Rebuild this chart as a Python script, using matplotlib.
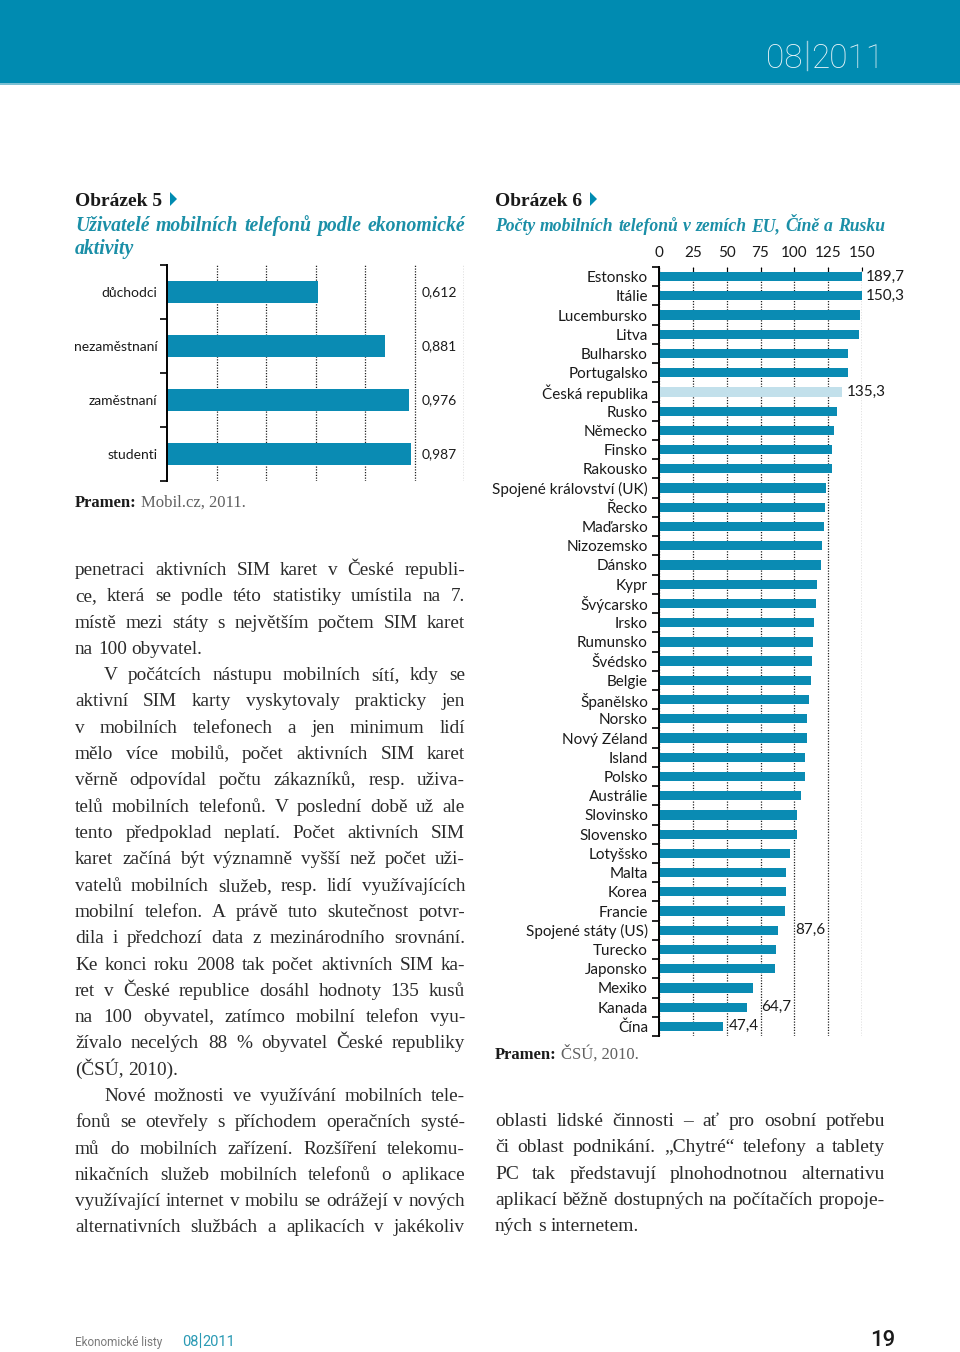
import matplotlib
matplotlib.use("Agg")
import matplotlib.pyplot as plt
from matplotlib.patches import Rectangle, Polygon
import numpy as np

W, H = 960, 1352
TEAL = '#008bb1'
BAR = '#0a8bb3'
BAR_CZ = '#c2e0eb'
TITLE_TEAL = '#1b8fa7'
INK = '#2b2b2b'

# Obrázek 5 data
activity = ['důchodci', 'nezaměstnaní', 'zaměstnaní', 'studenti']
activity_share = [0.612, 0.881, 0.976, 0.987]

# Obrázek 6 data (top to bottom)
countries = ['Estonsko', 'Itálie', 'Lucembursko', 'Litva', 'Bulharsko', 'Portugalsko',
             'Česká republika', 'Rusko', 'Německo', 'Finsko', 'Rakousko',
             'Spojené království (UK)', 'Řecko', 'Maďarsko', 'Nizozemsko', 'Dánsko',
             'Kypr', 'Švýcarsko', 'Irsko', 'Rumunsko', 'Švédsko', 'Belgie', 'Španělsko',
             'Norsko', 'Nový Zéland', 'Island', 'Polsko', 'Austrálie', 'Slovinsko',
             'Slovensko', 'Lotyšsko', 'Malta', 'Korea', 'Francie', 'Spojené státy (US)',
             'Turecko', 'Japonsko', 'Mexiko', 'Kanada', 'Čína']
phones = [189.7, 150.3, 148.5, 147.5, 139.5, 139.4, 135.3, 131.5, 129.3, 128.1, 128.0,
          123.1, 122.7, 121.7, 120.2, 119.5, 117.0, 116.3, 114.5, 114.1, 113.1, 112.6,
          111.1, 109.6, 109.1, 108.2, 108.1, 104.7, 102.2, 101.8, 96.6, 94.1, 94.0,
          93.2, 87.6, 86.8, 85.8, 69.5, 64.7, 47.4]
labelled = ['Estonsko', 'Itálie', 'Česká republika', 'Spojené státy (US)', 'Kanada', 'Čína']
phone_ticks = [0, 25, 50, 75, 100, 125, 150]

body_left = [
    'penetraci aktivních SIM karet v České republi-',
    'ce, která se podle této statistiky umístila na 7.',
    'místě mezi státy s největším počtem SIM karet',
    'na 100 obyvatel.',
    'V počátcích nástupu mobilních sítí, kdy se',
    'aktivní SIM karty vyskytovaly prakticky jen',
    'v mobilních telefonech a jen minimum lidí',
    'mělo více mobilů, počet aktivních SIM karet',
    'věrně odpovídal počtu zákazníků, resp. uživa-',
    'telů mobilních telefonů. V poslední době už ale',
    'tento předpoklad neplatí. Počet aktivních SIM',
    'karet začíná být významně vyšší než počet uži-',
    'vatelů mobilních služeb, resp. lidí využívajících',
    'mobilní telefon. A právě tuto skutečnost potvr-',
    'dila i předchozí data z mezinárodního srovnání.',
    'Ke konci roku 2008 tak počet aktivních SIM ka-',
    'ret v České republice dosáhl hodnoty 135 kusů',
    'na 100 obyvatel, zatímco mobilní telefon vyu-',
    'žívalo necelých 88 % obyvatel České republiky',
    '(ČSÚ, 2010).',
    'Nové možnosti ve využívání mobilních tele-',
    'fonů se otevřely s příchodem operačních systé-',
    'mů do mobilních zařízení. Rozšíření telekomu-',
    'nikačních služeb mobilních telefonů o aplikace',
    'využívající internet v mobilu se odrážejí v nových',
    'alternativních službách a aplikacích v jakékoliv',
]
body_right = [
    'oblasti lidské činnosti – ať pro osobní potřebu',
    'či oblast podnikání. „Chytré“ telefony a tablety',
    'PC tak představují plnohodnotnou alternativu',
    'aplikací běžně dostupných na počítačích propoje-',
    'ných s internetem.',
]

fig = plt.figure(figsize=(W / 100, H / 100), dpi=100)
page = fig.add_axes([0, 0, 1, 1], zorder=0)
page.set_xlim(0, W)
page.set_ylim(H, 0)
page.axis('off')
renderer = fig.canvas.get_renderer()


def px_axes(left, top, right, bottom):
    ax = fig.add_axes([left / W, 1 - bottom / H, (right - left) / W, (bottom - top) / H], zorder=1)
    ax.set_facecolor('none')
    return ax


def text_width(s, **font):
    t = page.text(0, 0, s, **font)
    w = t.get_window_extent(renderer).width
    t.remove()
    return w


def set_block(lines, x0, x1, y0, step, font, indent=(), ragged=(), indent_px=29):
    # justified text, one Text per word; shrink the font if a line cannot fit
    widest = max(text_width(l, **font) + (indent_px if i in indent else 0)
                 for i, l in enumerate(lines))
    if widest > (x1 - x0):
        font = dict(font, size=font['size'] * (x1 - x0) / widest * 0.99)
    space = text_width('n n', **font) - text_width('nn', **font)
    for i, line in enumerate(lines):
        y = y0 + i * step
        left = x0 + (indent_px if i in indent else 0)
        words = line.split()
        widths = [text_width(w, **font) for w in words]
        if i in ragged or len(words) == 1:
            gap = space
        else:
            gap = (x1 - left - sum(widths)) / (len(words) - 1)
        x = left
        for w, wd in zip(words, widths):
            page.text(x, y, w, ha='left', va='baseline', **font)
            x += wd + gap


# header band
page.add_patch(Rectangle((0, 0), W, 83, color=TEAL, lw=0))
page.add_patch(Rectangle((0, 83), W, 2, color='#7cc0d3', lw=0))
head_font = dict(family='Roboto', weight='light', size=24, color='#e8f4f8')
page.text(802, 68, '08', ha='right', va='baseline', **head_font)
page.plot([806.5, 806.5], [41, 70], color='#9ccfdf', lw=1)
page.text(811, 68, '2011', ha='left', va='baseline', **head_font)

# titles
title_font = dict(family='Liberation Serif', weight='bold', size=14, color='#1a1a1a')
sub_font = dict(family='Liberation Serif', weight='bold', style='italic', size=14.5, color=TITLE_TEAL)
for x, num, tri in [(75, 5, 170), (495, 6, 590)]:
    page.text(x, 206, f'Obrázek {num}', ha='left', va='baseline', **title_font)
    page.add_patch(Polygon([(tri, 192), (tri, 206), (tri + 7, 199)], closed=True, color=TEAL, lw=0))
set_block(['Uživatelé mobilních telefonů podle ekonomické', 'aktivity'], 75, 465, 231, 23,
          sub_font, ragged={1})
set_block(['Počty mobilních telefonů v zemích EU, Číně a Rusku'], 495, 885, 231, 23, sub_font)

label_font = dict(family='Lato', size=11, color='#1a1a1a')
label5_font = dict(family='Lato', size=10, color='#1a1a1a')

# Obrázek 5 chart
ax5 = px_axes(167, 265, 464, 481)
y5 = np.arange(len(activity))
ax5.barh(y5, activity_share, height=0.39, color=BAR, zorder=2)
ax5.set_xlim(0, 1.2)
ax5.set_ylim(len(activity) - 0.5, -0.5)
ax5.set_xticks(np.arange(0.2, 1.21, 0.2))
ax5.tick_params(axis='x', length=0, labelbottom=False)
ax5.grid(axis='x', linestyle=(0, (1, 1.2)), color='#222222', lw=0.9)
ax5.set_axisbelow(True)
ax5.set_yticks(np.arange(-0.5, len(activity), 1))
ax5.set_yticklabels([])
ax5.set_yticks(y5, minor=True)
ax5.set_yticklabels(activity, minor=True, **label5_font)
ax5.tick_params(axis='y', which='major', length=5, width=1.2, direction='out')
ax5.tick_params(axis='y', which='minor', length=0, pad=7)
for s in ['top', 'right', 'bottom']:
    ax5.spines[s].set_visible(False)
ax5.spines['left'].set_linewidth(1.4)
for yi, v in zip(y5, activity_share):
    ax5.text(1.03, yi, f'{v:.3f}'.replace('.', ','), ha='left', va='center', **label5_font)

src_b = dict(family='Liberation Serif', weight='bold', size=12, color='#1a1a1a')
src_n = dict(family='Liberation Serif', size=12, color='#606060')
for x, y, src in [(75, 507, 'Mobil.cz, 2011.'), (495, 1059, 'ČSÚ, 2010.')]:
    page.text(x, y, 'Pramen:', ha='left', va='baseline', **src_b)
    page.text(x + text_width('Pramen: ', **src_b), y, src, ha='left', va='baseline', **src_n)

# Obrázek 6 chart
ax6 = px_axes(659, 267, 862, 1036)
y6 = np.arange(len(countries))
colors = [BAR_CZ if c == 'Česká republika' else BAR for c in countries]
ax6.barh(y6, phones, height=0.48, color=colors, zorder=2)
ax6.set_xlim(0, 150)
ax6.set_ylim(len(countries) - 0.5, -0.5)
ax6.set_xticks(phone_ticks)
ax6.set_xticklabels([str(t) for t in phone_ticks], **label_font)
ax6.xaxis.tick_top()
ax6.tick_params(axis='x', length=3, direction='in', pad=5)
ax6.grid(axis='x', linestyle=(0, (1, 1.2)), color='#222222', lw=0.9)
ax6.set_axisbelow(True)
ax6.set_yticks(np.arange(-0.5, len(countries), 1))
ax6.set_yticklabels([])
ax6.set_yticks(y6, minor=True)
ax6.set_yticklabels(countries, minor=True, **label_font)
ax6.tick_params(axis='y', which='major', length=5, width=1.2, direction='out')
ax6.tick_params(axis='y', which='minor', length=0, pad=8)
for s in ['top', 'right', 'bottom']:
    ax6.spines[s].set_visible(False)
ax6.spines['left'].set_linewidth(1.4)
label_x = {'Estonsko': 153, 'Itálie': 153, 'Česká republika': 139,
           'Spojené státy (US)': 101, 'Kanada': 75.5, 'Čína': 51.5}
for c in labelled:
    i = countries.index(c)
    ax6.text(label_x[c], i, f'{phones[i]:.1f}'.replace('.', ','), ha='left', va='center',
             clip_on=False, **label_font)

# body text
body_font = dict(family='Liberation Serif', size=15.5, color=INK)
set_block(body_left, 75, 465, 575, 26.3, body_font, indent={4, 20}, ragged={3, 19})
set_block(body_right, 495, 885, 1126, 26.3, body_font, ragged={4})

# footer
foot_font = dict(family='Roboto', size=8.5, color='#7a7a7a')
page.text(75, 1346, 'Ekonomické listy', ha='left', va='baseline', **foot_font)
foot_teal = dict(family='Roboto', size=10.5, color='#2a9ab4')
page.text(182, 1346, '08', ha='left', va='baseline', **foot_teal)
xs = 182 + text_width('08', **foot_teal) + 2
page.plot([xs, xs], [1333, 1347], color='#2a9ab4', lw=0.8)
page.text(xs + 2, 1346, '2011', ha='left', va='baseline', **foot_teal)
page.text(895, 1346, '19', ha='right', va='baseline', family='Roboto', weight='medium',
          size=16, color='#1a1a1a')

fig.savefig('out.png', dpi=100)
